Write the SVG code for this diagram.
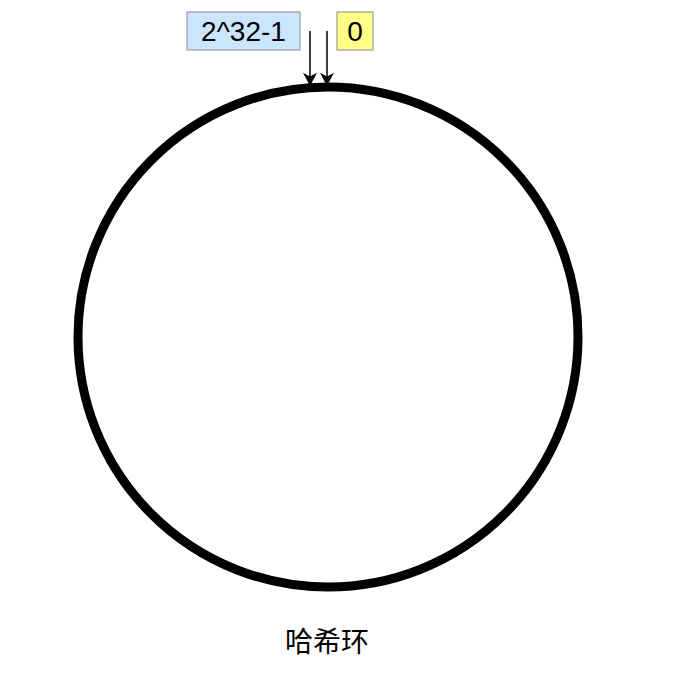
<svg xmlns="http://www.w3.org/2000/svg" width="680" height="684" viewBox="0 0 680 684">
<style>
.lbl{font-family:"Liberation Sans",Arial,sans-serif;font-size:28px;fill:#000;text-anchor:middle}
.box{stroke:#8a8a8a;stroke-width:1}
.conn{stroke:#000;stroke-width:1.5;fill:none}
.cap{font-family:"Noto Sans CJK SC","Liberation Sans",sans-serif;font-size:28px;fill:#000;text-anchor:middle}
</style>
<defs>
<marker id="arr" viewBox="0 0 14 15" refX="13" refY="7.5" markerWidth="15" markerHeight="14" markerUnits="userSpaceOnUse" orient="auto">
<path d="M0,0 L14,7.5 L0,15 L4,7.5 Z" fill="#000"/>
</marker>
</defs>
<rect width="680" height="684" fill="#fff"/>
<g id="ring">
<circle cx="328" cy="337" r="250" fill="none" stroke="#000" stroke-width="9"/>
<text class="cap" x="327" y="652">哈希环</text>
</g>
<g id="max">
<rect class="box" x="187" y="12" width="113" height="38" fill="#cce5ff"/>
<text class="lbl" x="243.5" y="41">2^32-1</text>
</g>
<g id="zero">
<rect class="box" x="337" y="12" width="36" height="38" fill="#ffff88"/>
<text class="lbl" x="355" y="41">0</text>
</g>
<g id="connectors">
<line class="conn" x1="310" y1="31" x2="310" y2="85" marker-end="url(#arr)"/>
<line class="conn" x1="327" y1="31" x2="327" y2="85" marker-end="url(#arr)"/>
</g>
</svg>
